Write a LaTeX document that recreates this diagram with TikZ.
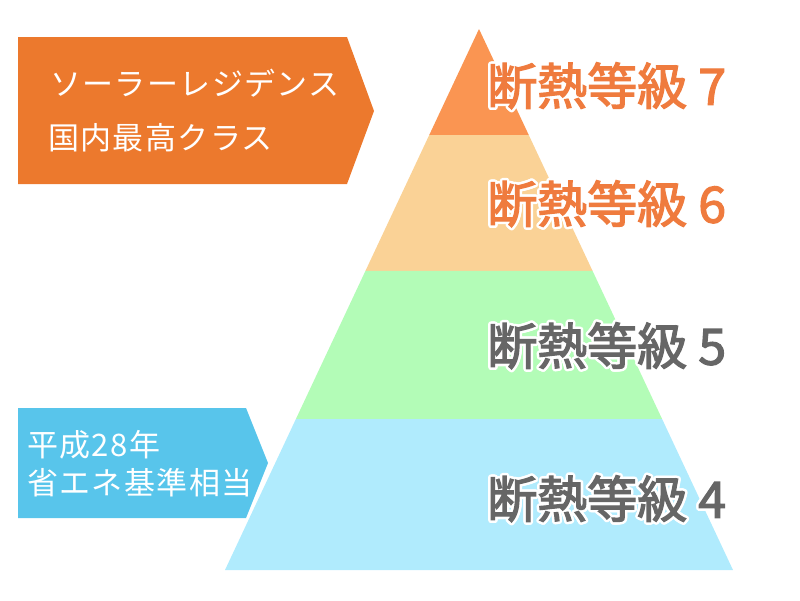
\documentclass[tikz,border=0pt]{standalone}
\usepackage{fontspec}
\setmainfont{Noto Sans CJK JP}
\usepackage{contour}
\contourlength{2.5pt}
\usepackage{xcolor}
\usetikzlibrary{calc}
\definecolor{bandseven}{HTML}{FA9552}
\definecolor{bandsix}{HTML}{FAD296}
\definecolor{bandfive}{HTML}{B3FCB7}
\definecolor{bandfour}{HTML}{B0EBFD}
\definecolor{bannerorange}{HTML}{EC792D}
\definecolor{bannerblue}{HTML}{58C5EB}
\definecolor{textorange}{HTML}{EF7B3E}
\definecolor{textgray}{HTML}{666666}

\begin{document}
\begin{tikzpicture}[x=1pt, y=-1pt,
    level/.style={anchor=west, inner sep=0pt, font=\fontsize{50}{58}\selectfont\addfontfeature{FakeBold=2.5}},
    banner/.style={anchor=west, inner sep=0pt, text=white, font=\fontsize{31}{36}\selectfont\addfontfeature{LetterSpace=4.5}}]
    \useasboundingbox (0,0) rectangle (800,600);
    % Pyramid
    \coordinate (apex) at (479,29);
    \coordinate (bl) at (225,570);
    \coordinate (br) at (733,570);
    \foreach \ta/\tb/\col in {0/0.196/bandseven, 0.196/0.447/bandsix, 0.447/0.721/bandfive, 0.721/1/bandfour}
        \fill[\col] ($(apex)!\ta!(bl)$) -- ($(apex)!\ta!(br)$) -- ($(apex)!\tb!(br)$) -- ($(apex)!\tb!(bl)$) -- cycle;
    % Level labels
    \foreach \n/\y/\col in {7/87/textorange, 6/205/textorange, 5/347/textgray, 4/500/textgray}
        \node[level, text=\col] (lv\n) at (487,\y) {\contour{white}{断熱等級 \n}};
    % Banners
    \fill[bannerorange] (18,37) -- (347,37) -- (374,111) -- (347,184) -- (18,184) -- cycle;
    \node[banner] (solar) at (50,83) {ソーラーレジデンス};
    \node[banner] (best) at (48,138) {国内最高クラス};
    \fill[bannerblue] (18,408) -- (246,408) -- (268,463) -- (246,518) -- (18,518) -- cycle;
    \node[banner] (heisei) at (27,445) {平成28年};
    \node[banner] (standard) at (27,483) {省エネ基準相当};
\end{tikzpicture}
\end{document}
